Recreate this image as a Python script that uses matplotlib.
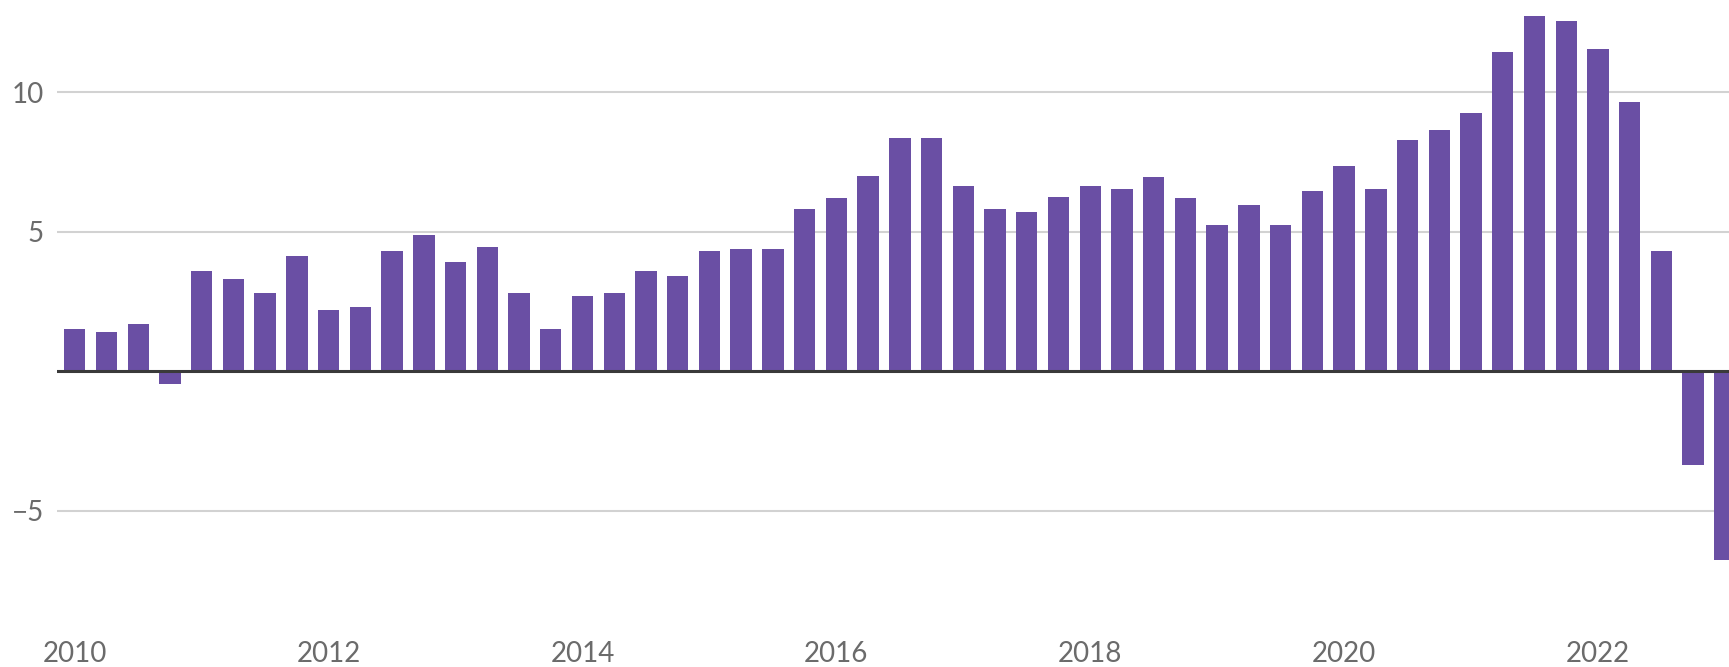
import matplotlib.pyplot as plt
import numpy as np

# quarterly values, 2010 Q1 .. 2023 Q1
values = [
    1.5, 1.4, 1.7, -0.45,       # 2010
    3.6, 3.3, 2.8, 4.15,        # 2011
    2.2, 2.3, 4.3, 4.9,         # 2012
    3.9, 4.45, 2.8, 1.5,        # 2013
    2.7, 2.8, 3.6, 3.4,         # 2014
    4.3, 4.4, 4.4, 5.8,         # 2015
    6.2, 7.0, 8.35, 8.35,       # 2016
    6.65, 5.8, 5.7, 6.25,       # 2017
    6.65, 6.55, 6.95, 6.2,      # 2018
    5.25, 5.95, 5.25, 6.45,     # 2019
    7.35, 6.55, 8.3, 8.65,      # 2020
    9.25, 11.45, 12.75, 12.55,  # 2021
    11.55, 9.65, 4.3, -3.35,    # 2022
    -6.75,                      # 2023
]
year_labels = ['2010', '2012', '2014', '2016', '2018', '2020', '2022']
y_ticks = [-5, 5, 10]

bar_color = '#6a4fa4'
text_color = '#6b6b6b'

x = np.arange(len(values))

fig = plt.figure(figsize=(17.29, 6.67), dpi=100)
ax = fig.add_axes([57 / 1729, 1 - 600 / 667, 1 - 57 / 1729, 600 / 667])

ax.bar(x, values, width=0.675, color=bar_color, zorder=3)
ax.axhline(0, color='#3a3a3a', lw=2.2, zorder=4)

ax.set_xlim(-0.56, 52.13)
ax.set_ylim(-8.2, 13.31)

ax.set_yticks(y_ticks)
ax.set_yticklabels(['\u22125' if t < 0 else str(t) for t in y_ticks])
ax.yaxis.grid(True, color='#d2d2d2', lw=1.5, zorder=0)

ax.set_xticks(x[::8])
ax.set_xticklabels(year_labels)

for s in ax.spines.values():
    s.set_visible(False)
ax.tick_params(axis='both', length=0, labelsize=20, labelcolor=text_color)
ax.tick_params(axis='y', pad=9.4)
ax.tick_params(axis='x', pad=29.5)
for lab in ax.get_xticklabels() + ax.get_yticklabels():
    lab.set_fontfamily(['Lato', 'DejaVu Sans'])

fig.savefig('out.png', dpi=100, facecolor='white')
